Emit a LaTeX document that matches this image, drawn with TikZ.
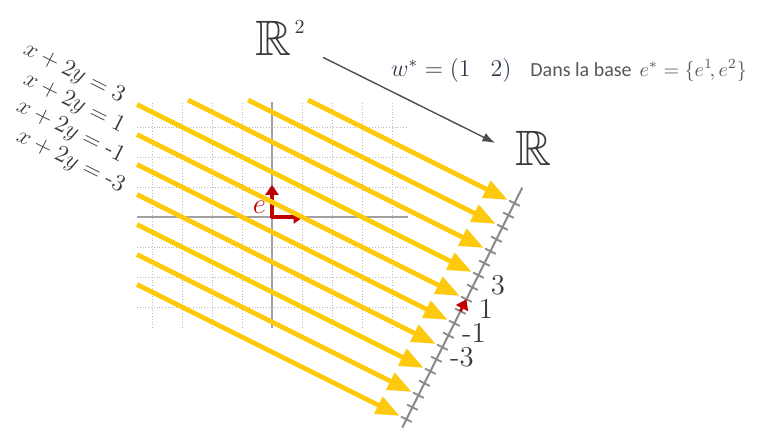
\documentclass[tikz,border=0pt]{standalone}
\usepackage{amsmath,amssymb}
\usepackage{fontspec}
\newfontfamily\basefont{Carlito}
\usepackage{xcolor}
\usepackage{tikz}
\usetikzlibrary{arrows.meta,positioning}
\definecolor{Ink}{HTML}{3A3A3A}
\definecolor{Muted}{HTML}{8A8A8A}
\definecolor{Gold}{HTML}{FFC90E}
\definecolor{Crimson}{HTML}{C00000}
\definecolor{Slate}{HTML}{2E3A4C}
\tikzset{
  gridline/.style={draw=Muted!60,densely dotted,line width=0.4pt},
  axisline/.style={draw=Muted!80,line width=0.9pt},
  level/.style={draw=Gold,line width=2.4pt,-{Triangle[length=12pt,width=9pt]}},
  basis/.style={draw=Crimson,line width=1.8pt,-{Triangle[length=5pt,width=6.5pt]}},
  maparrow/.style={-{Latex[length=2.2mm]},draw=Ink!90,line width=0.7pt},
  numline/.style={draw=Muted,line width=1pt},
  numtick/.style={draw=Muted,line width=0.9pt},
  space/.style={font=\Huge,text=Ink,inner sep=0pt},
  eqlabel/.style={font=\large,text=Ink,rotate=-26.565,anchor=east,inner sep=0pt},
  valnum/.style={font=\Large,text=Ink,inner sep=0pt},
  note/.style={font=\large,text=Slate,inner sep=0pt}
}
\begin{document}
\begin{tikzpicture}[x=15pt,y=15pt]
  \useasboundingbox (-9.0667,-7.1) rectangle (16.4,7.2333);
  \foreach \x in {-4,...,4} \draw[gridline] (\x,-3.7)--(\x,3.83);
  \foreach \y in {-3,...,3} \draw[gridline] (-4.5,\y)--(4.53,\y);
  \draw[axisline] (-4.5,0)--(4.53,0);
  \draw[axisline] (0,-3.7)--(0,3.83);
  \draw[basis] (0,-0.03)--(0,1.07);
  \draw[basis] (-0.03,0)--(1.05,0);
  \node[font=\Large,text=Crimson] (e) at (-0.42,0.32) {$e$};
  \foreach \c in {-9,-7,...,9} {
    \pgfmathsetmacro\xs{max(-4.5,\c-7.8)}
    \draw[level] (\xs,{(\c-(\xs))/2})--({(\c+31.4)/5-0.22},{(2*(\c)-15.7)/5+0.11});
  }
  \draw[numline] ({(10.3+31.4)/5},{(20.6-15.7)/5})--({(-9.7+31.4)/5},{(-19.4-15.7)/5});
  \foreach \c in {-9,...,9} \draw[numtick] ({(\c+31.4)/5-0.18},{(2*(\c)-15.7)/5+0.09})--({(\c+31.4)/5+0.18},{(2*(\c)-15.7)/5-0.09});
  \draw[basis,line width=1.5pt] ({31.4/5},{-15.7/5})--({32.4/5},{(2-15.7)/5});
  \foreach \c in {3,1,-1,-3} \node[valnum] (val\c) at ({(\c+31.4)/5+0.65},{(2*(\c)-15.7)/5-0.33}) {\c};
  \foreach \c in {3,1,-1,-3} \node[eqlabel] (eq\c) at (-4.95,{(\c+4.95)/2}) {$x+2y=\mbox{\c}$};
  \node[space,anchor=base west] (R2) at (-0.567,5.4) {$\mathbb{R}$\raisebox{11pt}{\normalsize\,2}};
  \node[space,anchor=base west] (R) at (8.1,1.733) {$\mathbb{R}$};
  \draw[maparrow] ([shift={(9pt,-1pt)}]R2.south east)--([shift={(-10pt,2.5pt)}]R.west);
  \node[note] (wstar) at (5.98,4.9) {$w^* = (1\;\;\;2)$};
  \node[note,text=Ink!85,font=\basefont,base right=9pt of wstar] (base) {Dans la base\, $e^*=\{e^1\!,e^2\}$};
\end{tikzpicture}
\end{document}
